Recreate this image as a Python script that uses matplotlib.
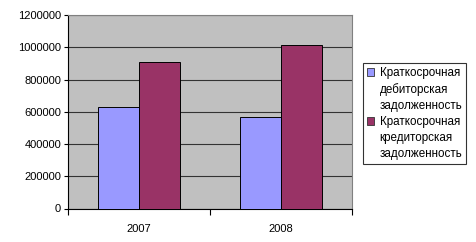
import numpy as np
import matplotlib.pyplot as plt
from matplotlib.patches import Patch

plt.rcParams['font.family'] = ['Liberation Sans', 'DejaVu Sans']

years = ['2007', '2008']
receivables = [628000, 566000]
payables = [910000, 1012000]
series_names = [['Краткосрочная', 'дебиторская', 'задолженность'],
                ['Краткосрочная', 'кредиторская', 'задолженность']]
colors = ['#9999ff', '#993366']

fig = plt.figure(figsize=(4.77, 2.42), dpi=100)
ax = fig.add_axes([68 / 477, (242 - 208.5) / 242, 284 / 477, 193.5 / 242])
ax.set_facecolor('#c0c0c0')

x = np.arange(len(years))
w = 0.29
ax.bar(x - w / 2, receivables, w, color=colors[0], edgecolor='black', linewidth=0.7, zorder=3)
ax.bar(x + w / 2, payables, w, color=colors[1], edgecolor='black', linewidth=0.7, zorder=3)

ax.set_xlim(-0.5, 1.5)
ax.set_ylim(0, 1200000)
ax.set_yticks(np.arange(0, 1200001, 200000))
ax.set_yticklabels([str(v) for v in range(0, 1200001, 200000)], fontsize=8)
ax.yaxis.grid(True, color='#333333', linewidth=0.8, zorder=1)
ax.set_xticks([-0.5, 0.5, 1.5])
ax.set_xticklabels([])
ax.set_xticks(x, minor=True)
ax.set_xticklabels(years, minor=True, fontsize=8)
ax.tick_params(axis='x', which='minor', length=0, pad=11)
ax.tick_params(axis='x', which='major', length=4, direction='out', color='black')
ax.tick_params(axis='y', length=3, direction='out', pad=2)

for s in ['top', 'right']:
    ax.spines[s].set_color('#808080')
ax.spines['left'].set_color('black')
ax.spines['bottom'].set_color('black')

# legend: square beside the first line of each label
handles, labels = [], []
for name, c in zip(series_names, colors):
    for i, line in enumerate(name):
        if i == 0:
            handles.append(Patch(facecolor=c, edgecolor='#333333', linewidth=0.6))
        else:
            handles.append(Patch(facecolor='none', edgecolor='none'))
        labels.append(line)

leg = fig.legend(handles, labels, loc='upper left',
                 bbox_to_anchor=(362.7 / 477, 1 - 63 / 242),
                 fontsize=8.4, frameon=True, fancybox=False, edgecolor='black',
                 handlelength=0.65, handleheight=0.65, handletextpad=0.45,
                 borderpad=0.35, labelspacing=0.34, borderaxespad=0)
leg.get_frame().set_linewidth(0.8)

fig.savefig('out.png', dpi=100)
